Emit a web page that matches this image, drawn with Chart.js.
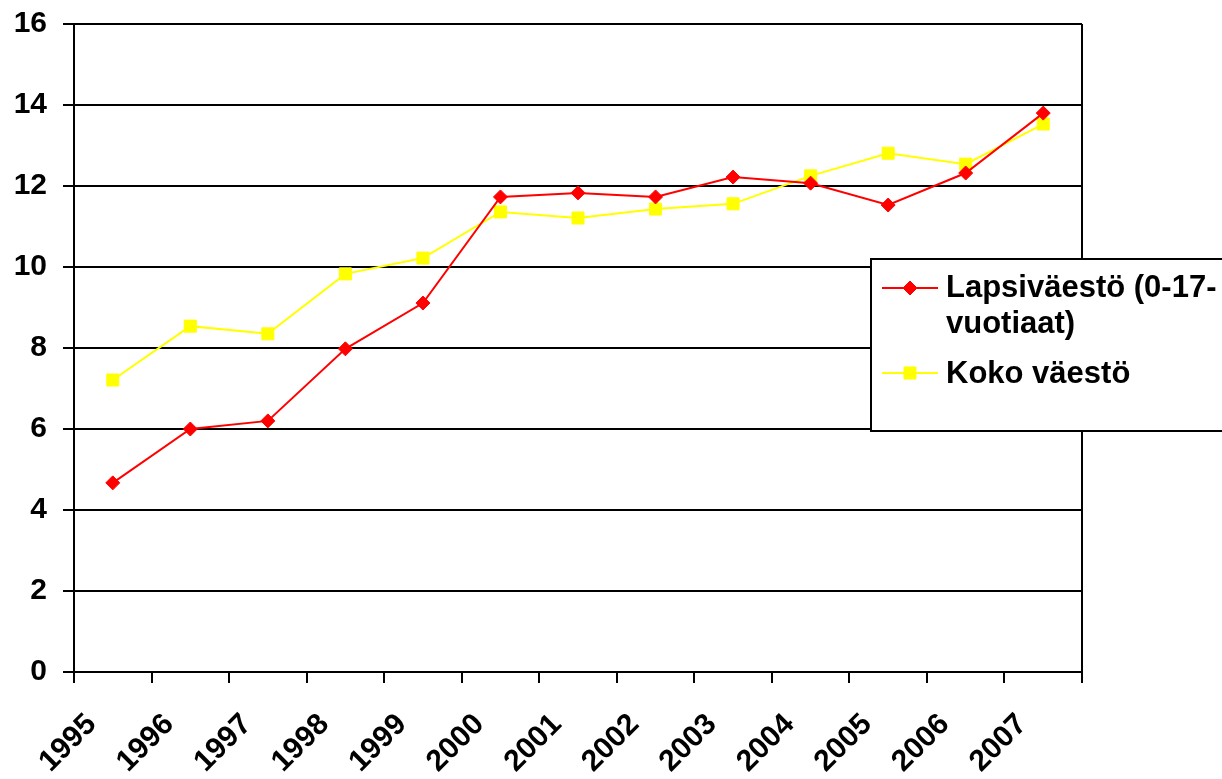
<!DOCTYPE html>
<html><head><meta charset="utf-8">
<script src="https://cdn.jsdelivr.net/npm/chart.js@4/dist/chart.umd.min.js"></script>
<style>html,body{margin:0;padding:0;background:#fff;overflow:hidden}#wrap{width:1222px;height:779px}</style>
</head><body><div id="wrap"><canvas id="c" width="1222" height="779"></canvas></div>
<script>
const years = ['1995','1996','1997','1998','1999','2000','2001','2002','2003','2004','2005','2006','2007'];
const lapsivaesto = [4.67, 6.0, 6.2, 7.98, 9.11, 11.73, 11.83, 11.73, 12.22, 12.07, 11.53, 12.32, 13.8];
const kokoVaesto = [7.21, 8.54, 8.35, 9.83, 10.22, 11.36, 11.21, 11.43, 11.56, 12.25, 12.81, 12.54, 13.53];
const yTickValues = [0, 2, 4, 6, 8, 10, 12, 14, 16];
const seriesNames = ['Lapsiväestö (0-17-vuotiaat)', 'Koko väestö'];
const legendLines = [['Lapsiväestö (0-17-', 'vuotiaat)'], ['Koko väestö']];

const FONT = "'Liberation Sans', Arial, sans-serif";

const legendPlugin = {
  id: 'boxLegend',
  afterDraw(chart) {
    const ctx = chart.ctx;
    const x0 = 871, y0 = 259, x1 = 1240, y1 = 431;
    ctx.save();
    ctx.fillStyle = '#fff';
    ctx.fillRect(x0, y0, x1 - x0, y1 - y0);
    ctx.strokeStyle = '#000';
    ctx.lineWidth = 2;
    ctx.strokeRect(x0, y0, x1 - x0, y1 - y0);
    const entries = [
      {ds: chart.data.datasets[0], y: 288, lines: legendLines[0], base: 297},
      {ds: chart.data.datasets[1], y: 373, lines: legendLines[1], base: 383}
    ];
    ctx.font = "bold 31px " + FONT;
    ctx.textBaseline = 'alphabetic';
    ctx.textAlign = 'left';
    entries.forEach(e => {
      ctx.strokeStyle = e.ds.borderColor;
      ctx.lineWidth = 2;
      ctx.beginPath();
      ctx.moveTo(882, e.y);
      ctx.lineTo(938, e.y);
      ctx.stroke();
      ctx.fillStyle = e.ds.pointBackgroundColor;
      ctx.strokeStyle = e.ds.pointBorderColor;
      ctx.lineWidth = 1;
      const opts = {pointStyle: e.ds.pointStyle, radius: e.ds.pointRadius, borderWidth: 1, rotation: 0};
      Chart.helpers.drawPoint(ctx, opts, 910, e.y);
      ctx.fillStyle = '#000';
      e.lines.forEach((t, i) => ctx.fillText(t, 946, e.base + i * 36));
    });
    ctx.restore();
  }
};

const borderPlugin = {
  id: 'plotBorder',
  beforeDatasetsDraw(chart) {
    const a = chart.chartArea, ctx = chart.ctx;
    ctx.save();
    ctx.strokeStyle = '#000';
    ctx.lineWidth = 2;
    ctx.beginPath();
    ctx.moveTo(a.right, a.top);
    ctx.lineTo(a.right, a.bottom);
    ctx.stroke();
    ctx.restore();
  }
};

new Chart(document.getElementById('c'), {
  type: 'line',
  data: {
    labels: years,
    datasets: [
      {
        label: seriesNames[0],
        data: lapsivaesto,
        borderColor: '#ff0000',
        backgroundColor: '#ff0000',
        pointBackgroundColor: '#ff0000',
        pointBorderColor: '#ff0000',
        pointStyle: 'rectRot',
        pointRadius: 7,
        pointBorderWidth: 1,
        borderWidth: 2,
        tension: 0
      },
      {
        label: seriesNames[1],
        data: kokoVaesto,
        borderColor: '#ffff00',
        backgroundColor: '#ffff00',
        pointBackgroundColor: '#ffff00',
        pointBorderColor: '#ffff00',
        pointStyle: 'rect',
        pointRadius: 8.5,
        pointBorderWidth: 1,
        borderWidth: 2,
        tension: 0
      }
    ]
  },
  options: {
    responsive: false,
    animation: false,
    devicePixelRatio: 1,
    layout: {autoPadding: false, padding: {left: 0, top: 24, right: 140, bottom: 0}},
    plugins: {legend: {display: false}, tooltip: {enabled: false}},
    scales: {
      x: {
        type: 'category',
        offset: true,
        grid: {offset: true, drawOnChartArea: false, drawTicks: true, tickLength: 11, color: '#000', lineWidth: 2},
        border: {display: true, color: '#000', width: 2},
        ticks: {
          autoSkip: false, maxRotation: 45, minRotation: 45,
          font: {family: FONT, size: 30, weight: 'bold'}, color: '#000',
          padding: 24, labelOffset: -21
        },
        afterFit(s) { s.height = 107; s.paddingLeft = 0; s.paddingRight = 0; }
      },
      y: {
        min: 0, max: 16,
        afterBuildTicks(s) { s.ticks = yTickValues.map(v => ({value: v})); },
        grid: {color: '#000', lineWidth: 2, tickLength: 11, drawTicks: true},
        border: {display: true, color: '#000', width: 2},
        ticks: {font: {family: FONT, size: 30, weight: 'bold'}, color: '#000', padding: 16},
        afterFit(s) { s.width = 74; s.paddingTop = 0; s.paddingBottom = 0; }
      }
    }
  },
  plugins: [borderPlugin, legendPlugin]
});
</script>
</body></html>
